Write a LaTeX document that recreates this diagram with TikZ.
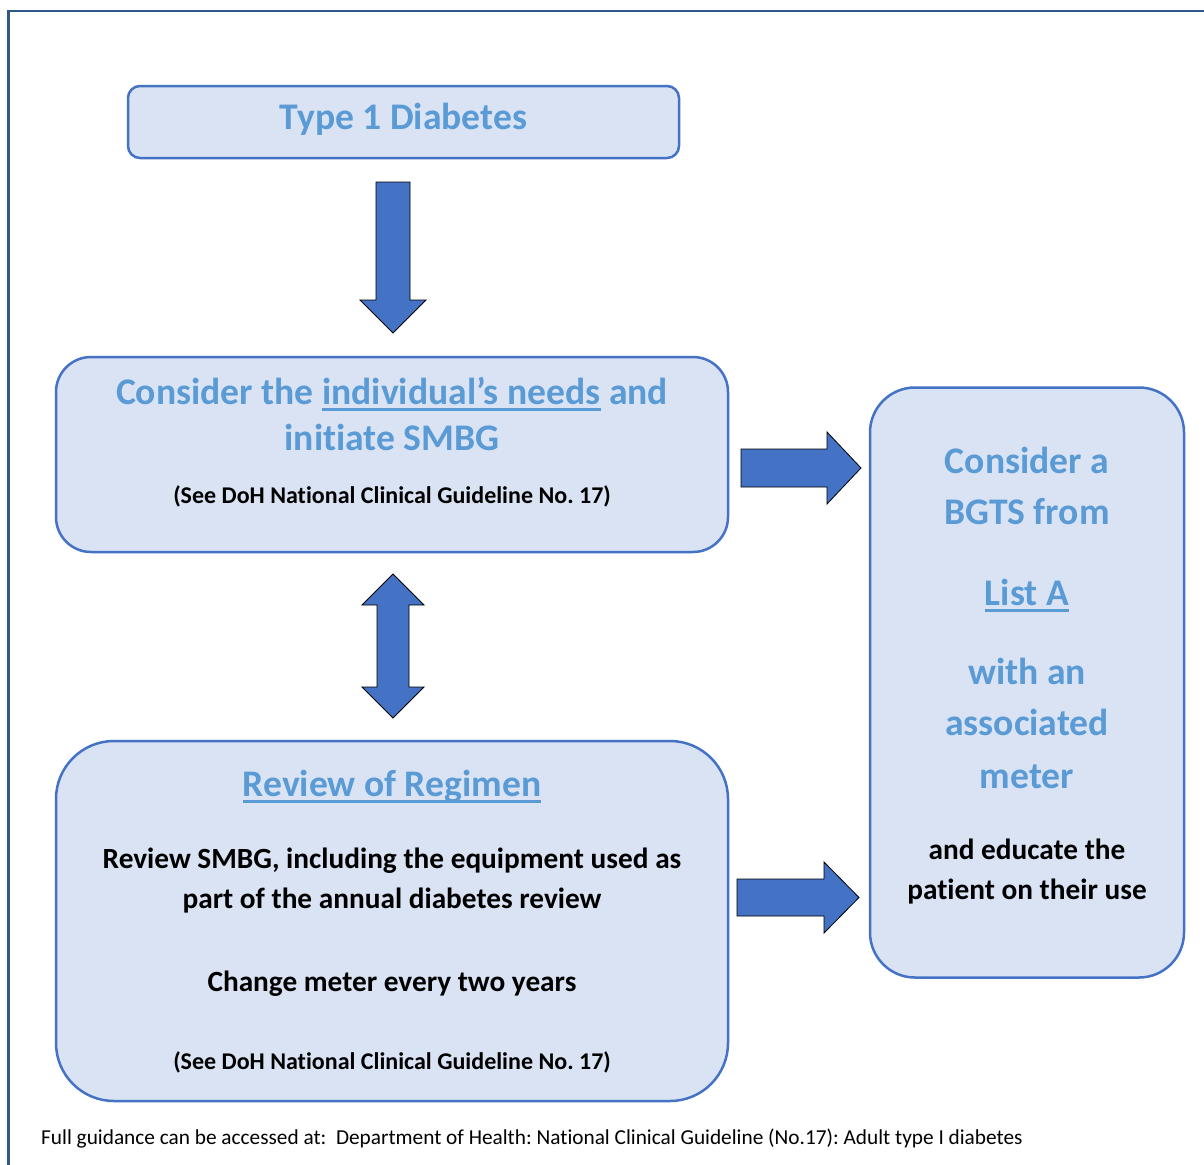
\documentclass[tikz,border=0pt]{standalone}
\usepackage{fontspec}
\setmainfont{Carlito}[Ligatures={NoCommon}]
\frenchspacing
\definecolor{frameblue}{HTML}{2E5A87}
\definecolor{boxfill}{HTML}{DAE3F3}
\definecolor{boxline}{HTML}{4472C4}
\definecolor{titleblue}{HTML}{5B9BD5}
\definecolor{arrowfill}{HTML}{4472C4}
\newcommand\myul[1]{\setbox0\hbox{#1}\rlap{\rule[-7pt]{\wd0}{2.6pt}}\box0\relax}
\tikzset{
  box/.style={draw=boxline, fill=boxfill, line width=2.5pt, rectangle, inner sep=0pt},
  bigtxt/.style={anchor=base, text=titleblue, inner sep=0pt, font=\fontsize{37.6}{44}\selectfont\bfseries\frenchspacing},
  midtxt/.style={anchor=base, text=black, inner sep=0pt, font=\fontsize{29.3}{34}\selectfont\bfseries\frenchspacing},
  smalltxt/.style={anchor=base, text=black, inner sep=0pt, font=\fontsize{24}{28}\selectfont\bfseries\frenchspacing},
  blockarrow/.style={fill=arrowfill, draw=black, line width=0.8pt, line join=miter},
}
\begin{document}
\begin{tikzpicture}[x=1pt,y=-1pt]
\useasboundingbox (0,0) rectangle (1204,1164);
\fill[white] (0,0) rectangle (1204,1164);
% frame
\draw[frameblue, line width=2.6pt] (8.5,1170) -- (8.5,11) -- (1210,11);

% boxes
\node[box, rounded corners=12pt, minimum width=551pt, minimum height=72pt] (type) at (403.5,122) {};
\node[box, rounded corners=35pt, minimum width=672pt, minimum height=195pt] (consider) at (392,454.5) {};
\node[box, rounded corners=45pt, minimum width=314pt, minimum height=590pt] (bgts) at (1027,682.5) {};
\node[box, rounded corners=58pt, minimum width=672pt, minimum height=360pt] (review) at (392,921) {};

% texts
\node[bigtxt] (t1) at (403.5,129) {Type 1 Diabetes};

\node[bigtxt] (c1) at (392,404) {Consider the \myul{individual’s needs} and};
\node[bigtxt] (c2) at (392,450) {initiate SMBG};
\node[smalltxt] (c3) at (392,503) {(See DoH National Clinical Guideline No. 17)};

\node[bigtxt] (b1) at (1027,473) {Consider a};
\node[bigtxt] (b2) at (1027,524) {BGTS from};
\node[bigtxt] (b3) at (1027,605) {\myul{List A}};
\node[bigtxt] (b4) at (1027,684) {with an};
\node[bigtxt] (b5) at (1027,735) {associated};
\node[bigtxt] (b6) at (1027,788) {meter};
\node[midtxt] (b7) at (1027,859) {and educate the};
\node[midtxt] (b8) at (1027,899) {patient on their use};

\node[bigtxt] (r1) at (392,796) {\myul{Review of Regimen}};
\node[midtxt] (r2) at (392,868) {Review SMBG, including the equipment used as};
\node[midtxt] (r3) at (392,908) {part of the annual diabetes review};
\node[midtxt] (r4) at (392,991) {Change meter every two years};
\node[smalltxt] (r5) at (392,1069) {(See DoH National Clinical Guideline No. 17)};

\node[anchor=base west, inner sep=0pt, font=\fontsize{21.3}{25}\selectfont\frenchspacing] (foot) at (41,1144)
  {Full guidance can be accessed at:\ \ Department of Health: National Clinical Guideline (No.17): Adult type I diabetes};

% block arrows
\draw[blockarrow] (376,182) -- (410,182) -- (410,300) -- (426,300) -- (393,333) -- (360,300) -- (376,300) -- cycle;
\draw[blockarrow] (393,574) -- (424,605) -- (409,605) -- (409,687) -- (424,687) -- (393,718) -- (362,687) -- (377,687) -- (377,605) -- (362,605) -- cycle;
\draw[blockarrow] (741,449) -- (827,449) -- (827,432) -- (861,468) -- (827,504) -- (827,487) -- (741,487) -- cycle;
\draw[blockarrow] (737,879) -- (824,879) -- (824,862) -- (859,897.5) -- (824,933) -- (824,916) -- (737,916) -- cycle;
\end{tikzpicture}
\end{document}
